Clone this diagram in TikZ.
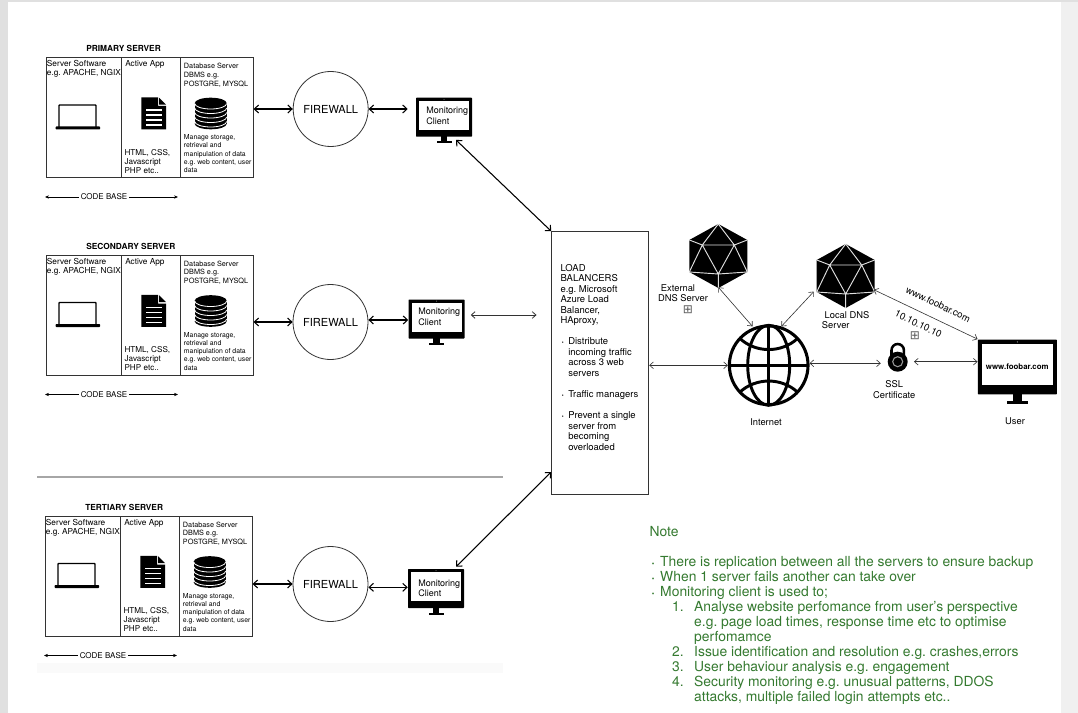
\documentclass[tikz,border=0pt]{standalone}
\usepackage{fontspec}
\setmainfont{TeX Gyre Heros}
\newfontfamily\symfont{DejaVu Sans}
\usetikzlibrary{arrows.meta}
\frenchspacing
\definecolor{notegreen}{HTML}{357A30}
\definecolor{linegrey}{HTML}{333333}
\newcommand{\fs}[2]{\fontsize{#1}{#2}\selectfont}
\newcommand{\lbul}{\hspace*{1pt}\makebox[4.8pt][l]{\raisebox{0.3pt}{\fs{4}{4}•}}}
\newcommand{\lind}{\hspace*{5.8pt}}
\newcommand{\nbul}{\hspace*{1.8pt}\makebox[6.2pt][l]{\raisebox{0.6pt}{\fs{5.5}{5.5}•}}}
\newcommand{\nnum}[1]{\hspace*{17pt}\makebox[16.5pt][l]{#1}}
\newcommand{\nind}{\hspace*{33.5pt}}
\begin{document}
\begin{tikzpicture}[x=0.75pt, y=-0.75pt,
  cell/.style={draw=linegrey, line width=0.7pt, anchor=north west, inner sep=0pt, minimum height=90pt},
  txt/.style={anchor=north west, inner sep=0pt, align=left},
  lab/.style={font=\fs{7}{7.95}, align=center, inner sep=0pt},
  mtxt/.style={font=\fs{6.75}{7.9}, anchor=west, align=left, inner sep=0pt},
  firewall/.style={circle, draw=linegrey, line width=0.6pt, minimum size=56.25pt, inner sep=0pt, font=\fs{8.3}{9.6}},
  link/.style={{Straight Barb[length=3.2pt,width=6pt]}-{Straight Barb[length=3.2pt,width=6pt]}, line width=0.8pt, draw=black},
  thin link/.style={{Straight Barb[length=2.8pt,width=5pt]}-{Straight Barb[length=2.8pt,width=5pt]}, line width=0.45pt, draw=linegrey},
  pics/serverbox/.style={code={
    \node[cell, minimum width=56.5pt] (sw) at (0,0) {};
    \node[cell, minimum width=43.8pt] (app) at (75.3,0) {};
    \node[cell, minimum width=54.7pt] (db) at (133.7,0) {};
    \node[anchor=west, font=\fs{6.25}{7.5}\bfseries, inner sep=0pt] (title) at (40,-8.3) {#1};
    \node[txt, font=\fs{6.2}{6.75}] (swt) at (0.7,3.4) {Server Software\\e.g. APACHE, NGIX};
    \node[txt, font=\fs{6.2}{6.75}] (appt) at (79,3.4) {Active App};
    \node[txt, font=\fs{6.1}{6.75}] (html) at (78.3,91.8) {HTML, CSS,\\Javascript\\PHP etc..};
    \node[txt, font=\fs{5.45}{6.5}] (dbt) at (137.7,6) {Database Server\\DBMS e.g.\\POSTGRE, MYSQL};
    \node[txt, font=\fs{5.15}{6.15}] (dbn) at (137.7,77.5) {Manage storage,\\retrieval and\\manipulation of data\\e.g. web content, user\\data};
    % laptop
    \draw[line width=1.1pt, rounded corners=0.5pt] (13,70) |- (50,48) -- (50,70);
    \fill[rounded corners=0.5pt] (9.7,69.5) rectangle (54,72.5);
    % document
    \fill (95.3,40.3) -- (112,40.3) -- (112,49) -- (120,49) -- (120,72.3) -- (95.3,72.3) -- cycle;
    \fill (113.2,40.8) -- (120,47.6) -- (113.2,47.6) -- cycle;
    \foreach \liney in {53,58,63,68}
      \draw[white, line width=1.1pt] (100,\liney) -- (116,\liney);
    % database
    \fill (164.7,46.2) ellipse[x radius=16, y radius=5.5];
    \fill (148.7,46.2) rectangle (180.7,66.8);
    \fill (164.7,66.8) ellipse[x radius=16, y radius=5.5];
    \foreach \liney in {46.5,51,55.5,60,64.5}
      \draw[white, line width=0.6pt] (148.7,\liney) arc[start angle=180, end angle=0, x radius=16, y radius=5.5];
    % code base
    \node[font=\fs{6}{7.2}, inner sep=0pt] (cb) at (58,140) {CODE BASE};
    \coordinate (cbl) at (-1,140);
    \coordinate (cbr) at (132,140);
    \draw[-{Stealth[length=3pt,width=2.5pt]}, line width=0.45pt] (cb.west) ++(-2,0) -- (cbl);
    \draw[-{Stealth[length=3pt,width=2.5pt]}, line width=0.45pt] (cb.east) ++(2,0) -- (cbr);
  }},
  pics/monitor/.style={code={
    \fill[rounded corners=0.5pt] (-28,-19.5) rectangle (28,19.5);
    \fill[white] (-25,-16.2) rectangle (25,12.8);
    \fill[black!45] (0,-17.8) circle[radius=0.5];
    \fill (-3.2,19) rectangle (3.2,24.5);
    \fill (-7.5,24) rectangle (7.5,26.3);
    \node[transform shape, inner sep=0pt, minimum width=42pt, minimum height=29.25pt] (frame) at (0,0) {};
  }},
  pics/icosa/.style={code={
    \fill (0,-32) -- (29,-16) -- (29,16) -- (0,32) -- (-29,16) -- (-29,-16) -- cycle;
    \draw[white!88!black, line width=0.7pt, line join=round]
      (-16,-11) -- (16,-11) -- (0,18) -- cycle
      (0,-32) -- (-16,-11) (0,-32) -- (16,-11)
      (-29,-16) -- (-16,-11) (29,-16) -- (16,-11)
      (-29,16) -- (-16,-11) (29,16) -- (16,-11)
      (-29,16) -- (0,18) -- (29,16) (0,18) -- (0,32);
    \node[circle, inner sep=0pt, minimum size=46.5pt] (body) at (0,0) {};
  }},
  pics/globe/.style={code={
    \node[circle, draw, line width=2.3pt, inner sep=0pt, minimum size=59pt] (body) at (0,0) {};
    \draw[line width=2.2pt] (0,-40) -- (0,40) (-40,0) -- (40,0);
    \draw[line width=2.2pt] (0,0) ellipse[x radius=21, y radius=40];
    \draw[line width=2.2pt] (-29,-27) .. controls (-13,-12) and (13,-12) .. (29,-27);
    \draw[line width=2.2pt] (-29,27) .. controls (-13,12) and (13,12) .. (29,27);
  }},
  pics/padlock/.style={code={
    \draw[line width=1.9pt] (-6.2,-6) -- (-6.2,-11.5) arc[start angle=180, end angle=360, x radius=6.2, y radius=6.2] -- (6.2,-6);
    \node[circle, fill, inner sep=0pt, minimum size=15pt] (body) at (0,0) {};
    \draw[white!60!black, line width=0.8pt] (0,0) circle[radius=5];
  }}]
  \useasboundingbox (0,0) rectangle (1078,713);
  % page
  \fill[black!12] (0,0) rectangle (1078,713);
  \fill[black!6] (1061,2) rectangle (1078,713);
  \fill[white] (8,2) rectangle (1061,713);
  \fill[black!2] (37,663) rectangle (503,673);
  \draw[black!35, line width=0.9pt] (37,477) -- (503,477);
  % primary row
  \pic (pri-) at (46,57) {serverbox={PRIMARY SERVER}};
  \node[firewall] (fw1) at (330.7,109) {FIREWALL};
  \pic (mon1-) at (444,117.2) {monitor};
  \node[mtxt] (mon1t) at (426,116) {Monitoring\\Client};
  \draw[link] (pri-db.east |- fw1.west) -- (fw1.west);
  \draw[link, shorten >=6pt] (fw1.east) -- (fw1.east -| mon1-frame.west);
  % secondary row
  \pic (sec-) at (46,254.5) {serverbox={SECONDARY SERVER}};
  \node[firewall] (fw2) at (330.5,322) {FIREWALL};
  \pic (mon2-) at (436.5,319) {monitor};
  \node[mtxt] (mon2t) at (418,317) {Monitoring\\Client};
  \draw[link] (sec-db.east |- fw2.west) -- (fw2.west);
  \draw[link] ([yshift=1.5pt]fw2.east) -- ([yshift=1.5pt]fw2.east -| mon2-frame.west);
  % tertiary row
  \pic (ter-) at (45,515.5) {serverbox={TERTIARY SERVER}};
  \node[firewall] (fw3) at (330.5,584) {FIREWALL};
  \pic (mon3-) at (436,588.5) {monitor};
  \node[mtxt] (mon3t) at (418,588.5) {Monitoring\\Client};
  \draw[link] (ter-db.east |- fw3.west) -- (fw3.west);
  \draw[link] ([yshift=-2.5pt]fw3.east) -- ([yshift=-2.5pt]fw3.east -| mon3-frame.west);
  % load balancer
  \node[draw=linegrey, line width=0.7pt, minimum width=72.8pt, minimum height=197pt, inner sep=0pt] (lb) at (600.2,363) {};
  \node[txt, font=\fs{7.1}{7.9}] (lbt) at (560.3,263.7) {LOAD\\BALANCERS\\e.g. Microsoft\\Azure Load\\Balancer,\\HAproxy,\\ ~\\
    \lbul Distribute\\\lind incoming traffic\\\lind across 3 web\\\lind servers\\ ~\\
    \lbul Traffic managers\\ ~\\
    \lbul Prevent a single\\\lind server from\\\lind becoming\\\lind overloaded};
  \draw[link] ([shift={(12,3)}]mon1-frame.south) -- (lb.north west);
  \draw[link] ([shift={(20,-2)}]mon3-frame.north) -- ([shift={(0,109)}]lb.west);
  \draw[thin link, line width=0.6pt, shorten <=4.5pt, shorten >=11pt] ([yshift=3pt]mon2-frame.east) -- ([yshift=3pt]mon2-frame.east -| lb.west);
  % internet side
  \pic (ext-) at (718.3,256) {icosa};
  \pic (loc-) at (845.7,276) {icosa};
  \pic (inet-) at (768.7,365.3) {globe};
  \pic (lock-) at (897.7,361.7) {padlock};
  \pic[scale=1.41] (user-) at (1017.4,367) {monitor};
  \node[lab, anchor=center, font=\fs{5.9}{7}\bfseries] (usert) at (1017.3,366.7) {www.foobar.com};
  \node[lab] (extl1) at (678,287.7) {External};
  \node[lab] (extl2) at (683,298.3) {DNS Server};
  \node[lab, text=black!65, font=\symfont\fs{9}{9}] (extl3) at (688,310) {⊞};
  \node[txt, font=\fs{7}{7.95}] (locl) at (821.7,311) {\hspace*{2pt}Local DNS\\Server};
  \node[lab] (ssll) at (894.3,389.7) {SSL\\Certificate};
  \node[lab] (inetl) at (766,422.3) {Internet};
  \node[lab] (userl) at (1015,420.7) {User};
  \node[lab, rotate=-26, font=\fs{7.2}{8}] (urll) at (938.3,304.3) {www.foobar.com};
  \node[lab, rotate=-26, font=\fs{7.2}{8}] (ipl) at (918.3,324) {10.10.10.10};
  \node[lab, text=black!65, font=\symfont\fs{9}{9}] (ipm) at (915,335.3) {⊞};
  \draw[thin link] (lb.east |- inet-body.west) -- (inet-body.west);
  \draw[thin link, shorten >=1pt] (ext-body.south) -- (inet-body.112);
  \draw[thin link, shorten >=3.5pt] (inet-body.72) -- (loc-body.203);
  \draw[thin link] (loc-body.-26) -- (user-frame.north west);
  \draw[thin link, shorten >=5pt] ([yshift=1.5pt]inet-body.east) -- ([yshift=1.5pt]inet-body.east -| lock-body.west);
  \draw[thin link, shorten <=4.5pt] (lock-body.east) -- (lock-body.east -| user-frame.west);
  % note
  \node[txt, text=notegreen, font=\fs{10.4}{11.25}] (note) at (649.3,526.5) {Note\\ ~\\
    \nbul There is replication between all the servers to ensure backup\\
    \nbul When 1 server fails another can take over\\
    \nbul Monitoring client is used to;\\
    \nnum{1.}Analyse website perfomance from user’s perspective\\
    \nind e.g. page load times, response time etc to optimise\\
    \nind perfomamce\\
    \nnum{2.}Issue identification and resolution e.g. crashes,errors\\
    \nnum{3.}User behaviour analysis e.g. engagement\\
    \nnum{4.}Security monitoring e.g. unusual patterns, DDOS\\
    \nind attacks, multiple failed login attempts etc..};
\end{tikzpicture}
\end{document}
